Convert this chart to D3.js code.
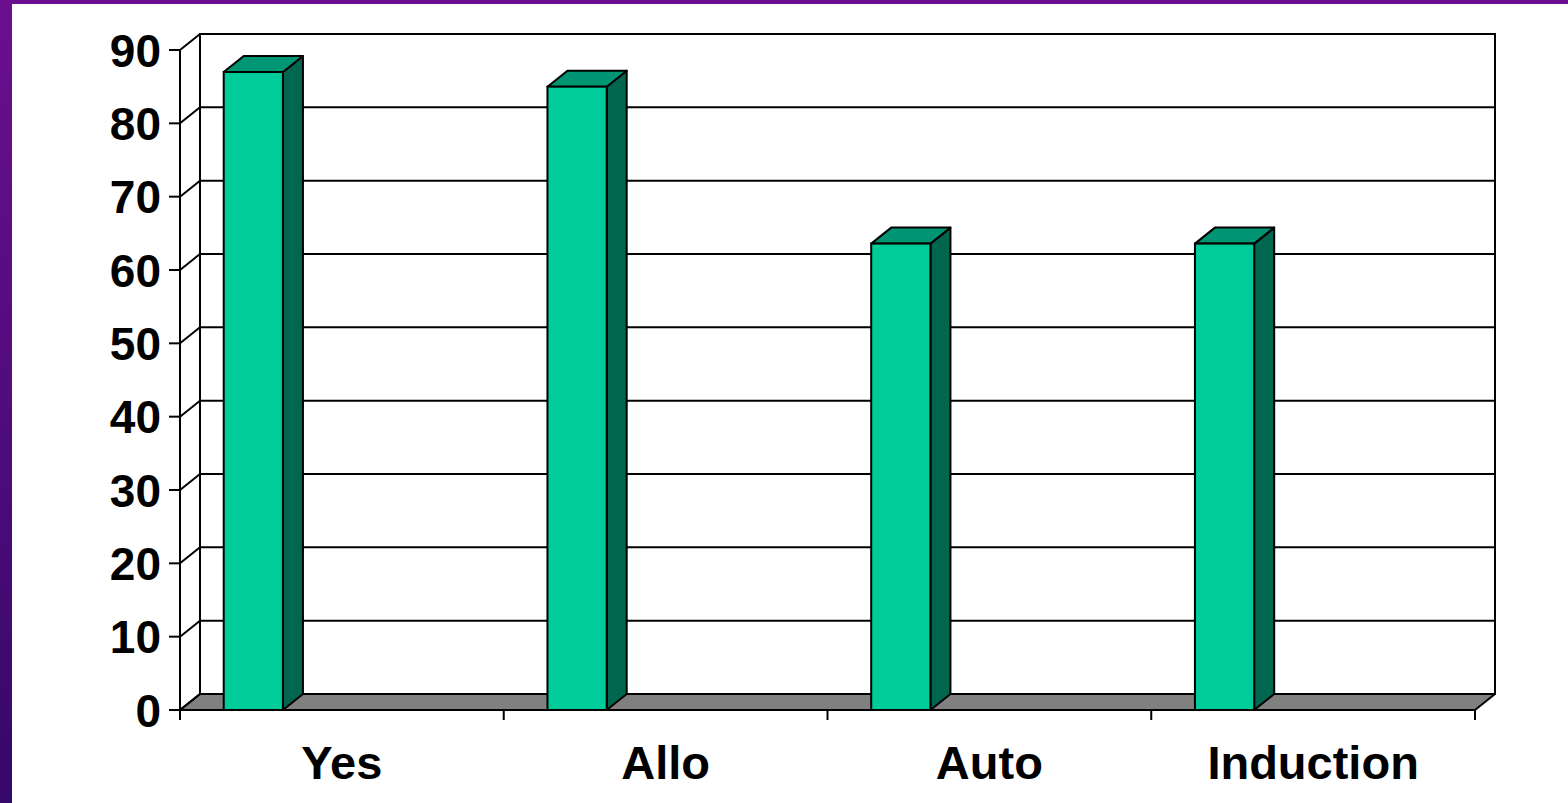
<!DOCTYPE html>
<html>
<head>
<meta charset="utf-8">
<script src="https://cdn.jsdelivr.net/npm/d3@7"></script>
<style>
  html, body { margin: 0; padding: 0; background: #ffffff; }
  svg { display: block; }
</style>
</head>
<body>
<svg id="chart" width="1568" height="803"></svg>
<script>
// ---- data ----
const categories = ["Yes", "Allo", "Auto", "Induction"];
const values = [87, 85, 63.6, 63.6];
const yTicks = [0, 10, 20, 30, 40, 50, 60, 70, 80, 90];

// ---- layout ----
const W = 1568, H = 803;
const svg = d3.select("#chart");
const depthX = 20, depthY = -16;
const frontLeft = 180, frontRight = 1475, frontBottom = 710, frontTop = 50;

const y = d3.scaleLinear().domain([0, 90]).range([frontBottom, frontTop]);
const x = d3.scaleBand().domain(categories).range([frontLeft, frontRight]);

// purple frame
const defs = svg.append("defs");
const grad = defs.append("linearGradient").attr("id", "frame").attr("x1", 0).attr("y1", 0).attr("x2", 0).attr("y2", 1);
grad.append("stop").attr("offset", 0).attr("stop-color", "#6b0f8f");
grad.append("stop").attr("offset", 1).attr("stop-color", "#36086a");
svg.append("rect").attr("x", 0).attr("y", 0).attr("width", W).attr("height", H).attr("fill", "url(#frame)");
svg.append("rect").attr("x", 12).attr("y", 4).attr("width", W - 12).attr("height", H - 4).attr("fill", "#ffffff");

const g = svg.append("g");
const line = d3.line();

// back wall
const bx0 = frontLeft + depthX, bx1 = frontRight + depthX;
g.append("rect")
  .attr("x", bx0).attr("y", y(90) + depthY)
  .attr("width", bx1 - bx0).attr("height", y(0) - y(90))
  .attr("fill", "#ffffff").attr("stroke", "#000").attr("stroke-width", 2);

// gridlines on back wall
g.selectAll(".grid").data(yTicks).join("line")
  .attr("x1", bx0).attr("x2", bx1)
  .attr("y1", d => y(d) + depthY).attr("y2", d => y(d) + depthY)
  .attr("stroke", "#000").attr("stroke-width", 2);

// floor
g.append("path")
  .attr("d", line([[frontLeft, y(0)], [frontRight, y(0)], [frontRight + depthX, y(0) + depthY], [frontLeft + depthX, y(0) + depthY]]) + "Z")
  .attr("fill", "#808080").attr("stroke", "#000").attr("stroke-width", 2).attr("stroke-linejoin", "round");

// y-axis: vertical front line, ticks, diagonals
g.append("line").attr("x1", frontLeft).attr("x2", frontLeft).attr("y1", y(90)).attr("y2", y(0) + 10)
  .attr("stroke", "#000").attr("stroke-width", 2);
g.selectAll(".ytick").data(yTicks).join("line")
  .attr("x1", frontLeft - 11).attr("x2", frontLeft)
  .attr("y1", d => y(d)).attr("y2", d => y(d))
  .attr("stroke", "#000").attr("stroke-width", 2);
g.selectAll(".ydiag").data(yTicks).join("line")
  .attr("x1", frontLeft).attr("x2", frontLeft + depthX)
  .attr("y1", d => y(d)).attr("y2", d => y(d) + depthY)
  .attr("stroke", "#000").attr("stroke-width", 2);

// y labels
g.selectAll(".ylab").data(yTicks).join("text")
  .attr("x", 161).attr("y", d => y(d)).attr("dy", "0.36em")
  .attr("text-anchor", "end")
  .attr("font-family", "Arial, 'Liberation Sans', sans-serif")
  .attr("font-weight", "bold").attr("font-size", 46)
  .attr("fill", "#000")
  .text(d => d);

// category ticks
const boundaries = categories.map(c => x(c)).concat([frontRight]);
g.selectAll(".xtick").data(boundaries).join("line")
  .attr("x1", d => d).attr("x2", d => d)
  .attr("y1", y(0)).attr("y2", y(0) + 10)
  .attr("stroke", "#000").attr("stroke-width", 2);

// bars
const bw = x.bandwidth();
const barOff = bw * 0.135, barW = bw * 0.183;
const bars = g.selectAll(".bar").data(categories.map((c, i) => ({ c, v: values[i] }))).join("g");
bars.each(function (d) {
  const sel = d3.select(this);
  const x0 = x(d.c) + barOff, x1 = x0 + barW;
  const yt = y(d.v), yb = y(0);
  // side
  sel.append("path")
    .attr("d", line([[x1, yt], [x1 + depthX, yt + depthY], [x1 + depthX, yb + depthY], [x1, yb]]) + "Z")
    .attr("fill", "#006650").attr("stroke", "#000").attr("stroke-width", 2).attr("stroke-linejoin", "round");
  // top
  sel.append("path")
    .attr("d", line([[x0, yt], [x0 + depthX, yt + depthY], [x1 + depthX, yt + depthY], [x1, yt]]) + "Z")
    .attr("fill", "#009673").attr("stroke", "#000").attr("stroke-width", 2).attr("stroke-linejoin", "round");
  // front
  sel.append("rect")
    .attr("x", x0).attr("y", yt).attr("width", barW).attr("height", yb - yt)
    .attr("fill", "#00cc99").attr("stroke", "#000").attr("stroke-width", 2);
});

// category labels
g.selectAll(".xlab").data(categories).join("text")
  .attr("x", d => x(d) + bw / 2).attr("y", 779)
  .attr("text-anchor", "middle")
  .attr("font-family", "Arial, 'Liberation Sans', sans-serif")
  .attr("font-weight", "bold").attr("font-size", 47)
  .attr("fill", "#000")
  .text(d => d);
</script>
</body>
</html>
